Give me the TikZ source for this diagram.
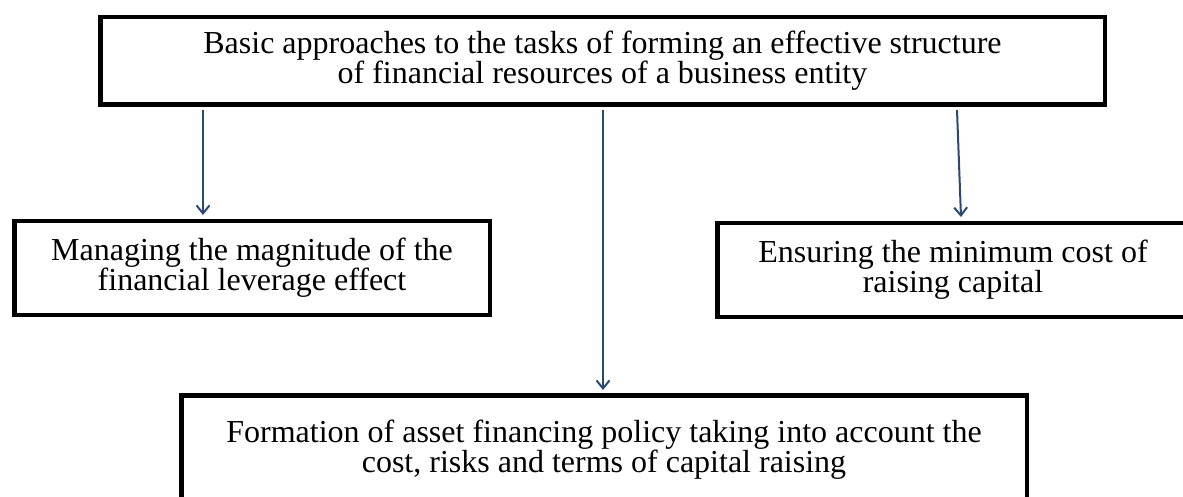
\documentclass[tikz,border=0pt]{standalone}
\usepackage{fontspec}
\setmainfont{Liberation Serif}
\usetikzlibrary{arrows.meta}
\definecolor{arrowblue}{HTML}{2B4A6F}
\begin{document}
\begin{tikzpicture}[x=1pt,y=-1pt,
  box/.style={draw=black, line width=4.5pt, fill=white, align=center,
    inner sep=0pt, font=\fontsize{32}{30}\selectfont},
  arr/.style={draw=arrowblue, line width=2pt,
    -{Straight Barb[length=8pt,width=13pt]}}]
\useasboundingbox (0,0) rectangle (1183,497);
\fill[white] (0,0) rectangle (1183,497);
\clip (0,0) rectangle (1183,497);

% boxes
\node[box, minimum width=1004.5pt, minimum height=87.5pt] (top) at (602.5,61)
  {Basic approaches to the tasks of forming an effective structure\\of financial resources of a business entity};
\node[box, minimum width=475.5pt, minimum height=93.5pt] (lbox) at (252,268)
  {Managing the magnitude of the\\financial leverage effect};
\node[box, minimum width=471.5pt, minimum height=93.5pt] (rbox) at (953,270)
  {Ensuring the minimum cost of\\raising capital};
\node[box, minimum width=845.5pt, minimum height=108.5pt] (bbox) at (604,449.5)
  {Formation of asset financing policy taking into account the\\cost, risks and terms of capital raising};

% connectors
\draw[arr] ([xshift=-399.5pt,yshift=-3pt]top.south) -- ([xshift=-49pt,yshift=4pt]lbox.north);
\draw[arr] ([xshift=0.5pt,yshift=-3pt]top.south) -- ([xshift=-1pt,yshift=3pt]bbox.north);
\draw[arr] ([xshift=354.5pt,yshift=-3pt]top.south) -- ([xshift=8pt,yshift=4pt]rbox.north);
\end{tikzpicture}
\end{document}
